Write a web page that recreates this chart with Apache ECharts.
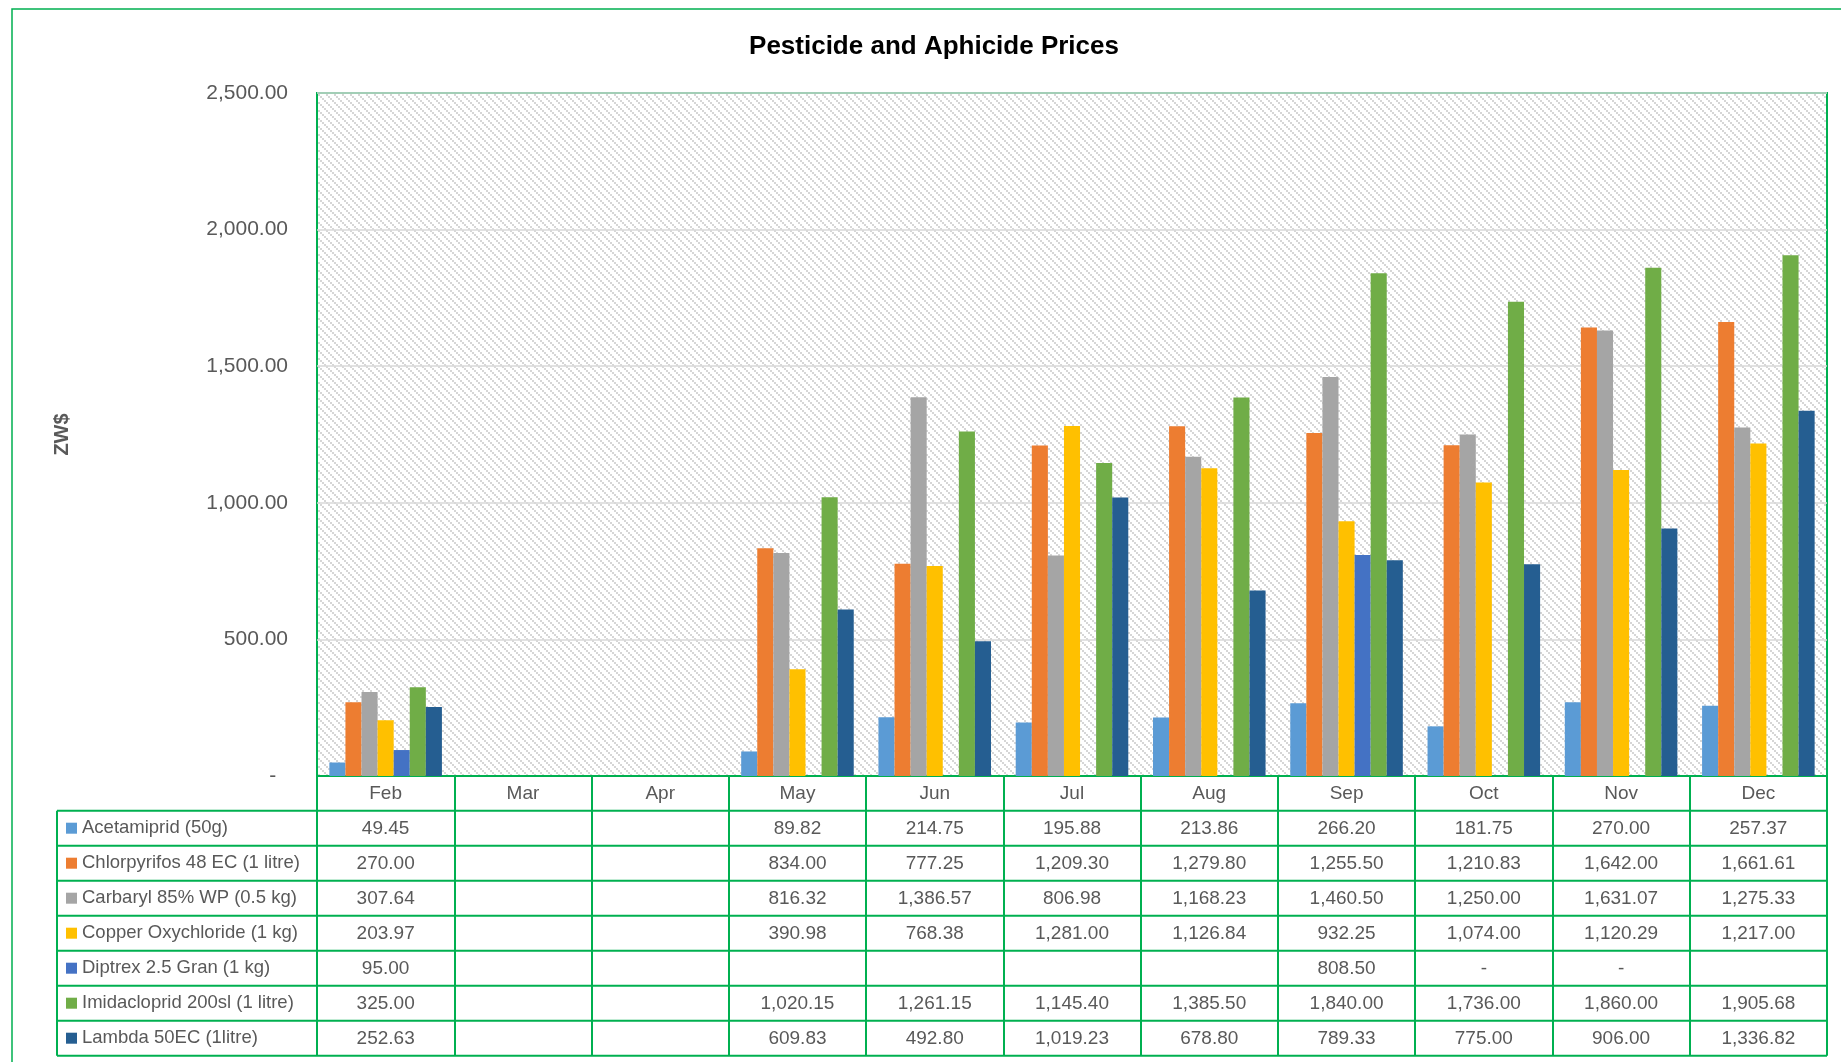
<!DOCTYPE html>
<html>
<head>
<meta charset="utf-8">
<title>Pesticide and Aphicide Prices</title>
<script src="https://cdn.jsdelivr.net/npm/echarts@6/dist/echarts.min.js"></script>
<style>
  html, body { margin: 0; padding: 0; background: #fff; }
  #chart { width: 1841px; height: 1062px; }
</style>
</head>
<body>
<!-- chart + data table container -->
<div id="chart"></div>
<script>
// ---- data (ZW$ prices, Feb..Dec) ----
const months = ["Feb", "Mar", "Apr", "May", "Jun", "Jul", "Aug", "Sep", "Oct", "Nov", "Dec"];
const acetamiprid = [49.45, null, null, 89.82, 214.75, 195.88, 213.86, 266.20, 181.75, 270.00, 257.37];
const chlorpyrifos = [270.00, null, null, 834.00, 777.25, 1209.30, 1279.80, 1255.50, 1210.83, 1642.00, 1661.61];
const carbaryl = [307.64, null, null, 816.32, 1386.57, 806.98, 1168.23, 1460.50, 1250.00, 1631.07, 1275.33];
const copperOxychloride = [203.97, null, null, 390.98, 768.38, 1281.00, 1126.84, 932.25, 1074.00, 1120.29, 1217.00];
const diptrex = [95.00, null, null, null, null, null, null, 808.50, 0, 0, null];
const imidacloprid = [325.00, null, null, 1020.15, 1261.15, 1145.40, 1385.50, 1840.00, 1736.00, 1860.00, 1905.68];
const lambda = [252.63, null, null, 609.83, 492.80, 1019.23, 678.80, 789.33, 775.00, 906.00, 1336.82];
const yTicks = [0, 500, 1000, 1500, 2000, 2500];

const seriesList = [
  { name: "Acetamiprid (50g)", values: acetamiprid, color: "#5B9BD5" },
  { name: "Chlorpyrifos 48 EC (1 litre)", values: chlorpyrifos, color: "#ED7D31" },
  { name: "Carbaryl 85% WP (0.5 kg)", values: carbaryl, color: "#A5A5A5" },
  { name: "Copper Oxychloride (1 kg)", values: copperOxychloride, color: "#FFC000" },
  { name: "Diptrex 2.5 Gran (1 kg)", values: diptrex, color: "#4472C4" },
  { name: "Imidacloprid 200sl (1 litre)", values: imidacloprid, color: "#70AD47" },
  { name: "Lambda 50EC (1litre)", values: lambda, color: "#255E91" },
];

// ---- layout ----
const FONT = "Liberation Sans, Arial, sans-serif";
const GREEN = "#00B050";
const TEXT = "#595959";
const plotLeft = 317, plotTop = 93, plotRight = 1827, plotBottom = 776;
const tableLeft = 57, headerH = 34.7, rowH = 35;

// excel style number format, 0 shows as "-"
function fmt(v) {
  if (v === null || v === undefined) return " ";
  if (v === 0) return "-";
  return v.toLocaleString("en-US", { minimumFractionDigits: 2, maximumFractionDigits: 2 });
}

// light downward diagonal hatch for the plot area
function makeHatch() {
  const c = document.createElement("canvas");
  c.width = 8;
  c.height = 8;
  const ctx = c.getContext("2d");
  ctx.fillStyle = "#ffffff";
  ctx.fillRect(0, 0, 8, 8);
  ctx.fillStyle = "#d6d6d6";
  for (let y = 0; y < 8; y++) {
    for (let x = 0; x < 8; x++) {
      if ((((Math.floor(x / 2) - Math.floor(y / 2)) % 4) + 4) % 4 === 0) ctx.fillRect(x, y, 1, 1);
    }
  }
  return c;
}

const chart = echarts.init(document.getElementById("chart"));

// table lines below the axis (columns come from the x axis ticks)
const tableLines = [];
for (let k = 0; k <= seriesList.length; k++) {
  const y = plotBottom + headerH + k * rowH;
  tableLines.push({
    type: "line",
    shape: { x1: tableLeft, y1: y, x2: plotRight, y2: y },
    style: { stroke: GREEN, lineWidth: 2 },
  });
}
tableLines.push({
  type: "line",
  shape: { x1: tableLeft, y1: plotBottom + headerH, x2: tableLeft, y2: plotBottom + headerH + seriesList.length * rowH },
  style: { stroke: GREEN, lineWidth: 2 },
});

const option = {
  textStyle: { fontFamily: FONT },
  animation: false,
  title: {
    text: "Pesticide and Aphicide Prices",
    left: 934,
    top: 34,
    textAlign: "center",
    padding: 0,
    textStyle: { fontSize: 26, fontWeight: "bold", color: "#000", fontFamily: FONT },
  },
  legend: {
    orient: "vertical",
    left: 66,
    top: plotBottom + headerH,
    padding: 0,
    itemWidth: 11,
    itemHeight: 11,
    itemGap: 0,
    icon: "rect",
    selectedMode: false,
    data: seriesList.map((s) => s.name),
    textStyle: { fontSize: 18.5, color: TEXT, lineHeight: rowH, fontFamily: FONT },
  },
  grid: {
    left: plotLeft,
    right: 1841 - plotRight,
    top: plotTop,
    bottom: 1062 - plotBottom,
    outerBoundsMode: "none",
    show: true,
    backgroundColor: { image: makeHatch(), repeat: "repeat" },
    borderColor: GREEN,
    borderWidth: 2,
  },
  xAxis: {
    type: "category",
    data: months,
    axisLine: { show: true, lineStyle: { color: GREEN, width: 2 } },
    axisTick: { show: true, length: headerH + seriesList.length * rowH, lineStyle: { color: GREEN, width: 2 } },
    splitLine: { show: false },
    axisLabel: {
      interval: 0,
      hideOverlap: false,
      margin: 0,
      fontSize: 19,
      lineHeight: rowH,
      color: TEXT,
      formatter: (val, idx) => [val].concat(seriesList.map((s) => fmt(s.values[idx]))).join("\n"),
    },
  },
  yAxis: {
    type: "value",
    min: yTicks[0],
    max: yTicks[yTicks.length - 1],
    interval: yTicks[1] - yTicks[0],
    name: "ZW$",
    nameLocation: "middle",
    nameGap: 245,
    nameTextStyle: { fontSize: 20, fontWeight: "bold", color: TEXT, fontFamily: FONT },
    axisLine: { show: false },
    axisTick: { show: false },
    axisLabel: {
      fontSize: 21,
      color: TEXT,
      margin: 29,
      formatter: (v) => (v === 0 ? "-  " : fmt(v)),
    },
    splitLine: { lineStyle: { color: "#d9d9d9", width: 1.5 } },
  },
  series: seriesList.map((s) => ({
    name: s.name,
    type: "bar",
    data: s.values,
    barGap: "0%",
    barCategoryGap: "18%",
    itemStyle: { color: s.color },
  })),
  graphic: [
    {
      type: "rect",
      shape: { x: 12, y: 9, width: 1900, height: 1100 },
      style: { fill: null, stroke: GREEN, lineWidth: 1.5 },
      silent: true,
    },
  ].concat(tableLines),
};

chart.setOption(option);
window.addEventListener("resize", () => chart.resize());
</script>
</body>
</html>
